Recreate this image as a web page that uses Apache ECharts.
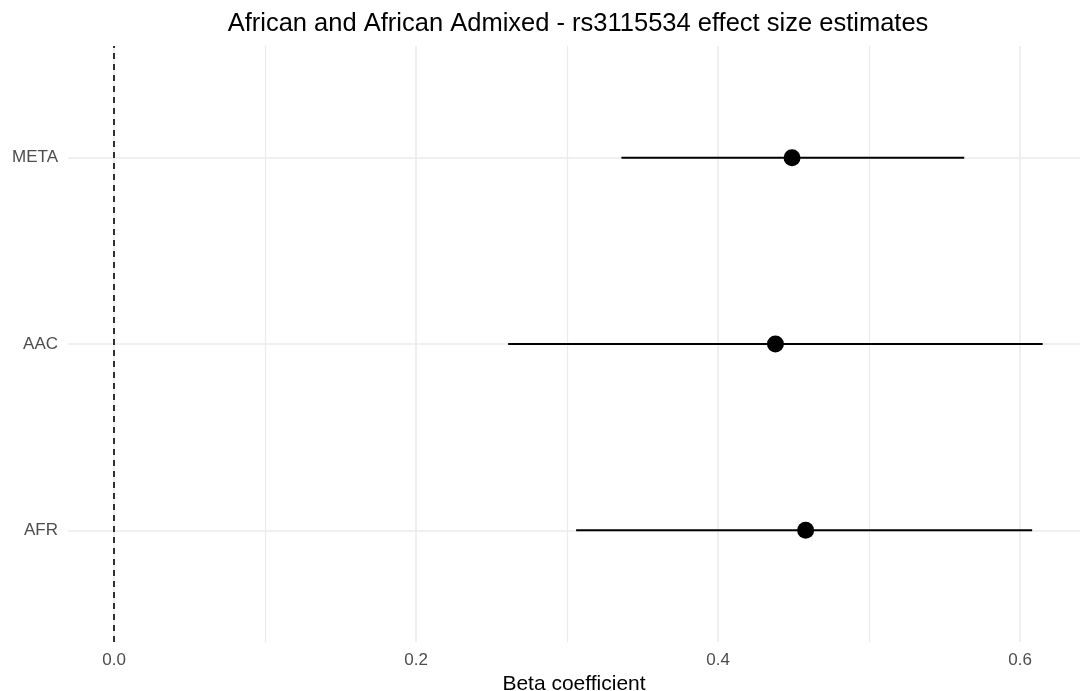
<!DOCTYPE html>
<html><head><meta charset="utf-8">
<script src="https://cdn.jsdelivr.net/npm/echarts@6/dist/echarts.min.js"></script>
<style>html,body{margin:0;padding:0;background:#fff}#c{width:1080px;height:691px}</style>
</head><body><div id="c"></div>
<script>
// Data (bottom to top)
const categories = ['AFR', 'AAC', 'META'];
const estimates  = [0.458, 0.438, 0.449];
const lower      = [0.306, 0.261, 0.336];
const upper      = [0.608, 0.615, 0.563];
const xTicks     = [0, 0.2, 0.4, 0.6];
const xMinor     = [0.1, 0.3, 0.5];
const title      = 'African and African Admixed - rs3115534 effect size estimates';
const xName      = 'Beta coefficient';

const pos = categories.map((c, i) => i + 1);
const font = 'Liberation Sans, Arial, Helvetica, sans-serif';

const chart = echarts.init(document.getElementById('c'), null, {renderer: 'canvas'});
chart.setOption({
  animation: false,
  backgroundColor: '#fff',
  title: {
    text: title, left: 573, top: 6, textAlign: 'center',
    textStyle: {fontFamily: font, fontSize: 25.5, fontWeight: 'normal', color: '#000'}
  },
  grid: {left: 68, right: 0, top: 46, bottom: 49, containLabel: false, outerBoundsMode: 'none'},
  xAxis: {
    type: 'value', min: -0.0305, max: 0.6397,
    axisLine: {show: false}, axisTick: {show: false}, splitLine: {show: false},
    axisLabel: {customValues: xTicks, formatter: v => v.toFixed(1), color: '#4d4d4d',
      fontFamily: font, fontSize: 17, margin: 10},
    name: xName, nameLocation: 'middle', nameGap: 28,
    nameTextStyle: {fontFamily: font, fontSize: 21, color: '#000'}
  },
  yAxis: {
    type: 'value', min: 0.4, max: 3.6,
    axisLine: {show: false}, axisTick: {show: false}, splitLine: {show: false},
    axisLabel: {customValues: pos, formatter: v => categories[Math.round(v) - 1] || '',
      color: '#4d4d4d', fontFamily: font, fontSize: 17, margin: 10}
  },
  series: [
    {
      type: 'line', data: [], silent: true, z: 0,
      markLine: {
        silent: true, symbol: 'none', label: {show: false}, animation: false, z: 0,
        data: [
          ...xTicks.map(v => ({xAxis: v, lineStyle: {color: '#ebebeb', width: 1.6, type: 'solid'}})),
          ...xMinor.map(v => ({xAxis: v, lineStyle: {color: '#ebebeb', width: 1.2, type: 'solid'}})),
          ...pos.map(v => ({yAxis: v, lineStyle: {color: '#ebebeb', width: 1.6, type: 'solid'}}))
        ]
      }
    },
    {
      type: 'line', data: [], silent: true, z: 1,
      markLine: {
        silent: true, symbol: 'none', label: {show: false}, animation: false, z: 1,
        data: [{xAxis: 0, lineStyle: {color: '#000', width: 1.6, type: [6, 5]}}]
      }
    },
    {
      type: 'custom', z: 10, silent: true,
      data: categories.map((c, i) => [lower[i], upper[i], pos[i]]),
      renderItem: (params, api) => {
        const a = api.coord([api.value(0), api.value(2)]);
        const b = api.coord([api.value(1), api.value(2)]);
        return {type: 'line', shape: {x1: a[0], y1: a[1], x2: b[0], y2: b[1]},
          style: {stroke: '#000', lineWidth: 1.8}};
      }
    },
    {
      type: 'scatter', z: 11, symbol: 'circle', symbolSize: 17,
      itemStyle: {color: '#000', opacity: 1},
      data: categories.map((c, i) => [estimates[i], pos[i]])
    }
  ]
});
</script></body></html>
